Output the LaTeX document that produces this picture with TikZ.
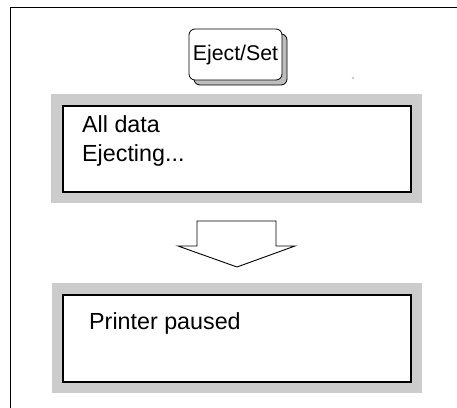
\documentclass[tikz,border=0pt]{standalone}
\usepackage{fontspec}
\setmainfont{Liberation Sans}
\definecolor{panelgray}{HTML}{CCCCCC}
\definecolor{keyside}{HTML}{BDBDBD}
\begin{document}
\begin{tikzpicture}[x=1pt,y=-1pt,
  panel/.style={fill=panelgray, draw=none, minimum width=#1},
  screen/.style={fill=white, draw=black, line width=2.2pt},
  txt/.style={inner sep=0pt, anchor=base west, font=\fontsize{23.3}{28}\selectfont},
  keytxt/.style={inner sep=0pt, font=\fontsize{21.3}{25}\selectfont},
  keyface/.style={draw=black, line width=0.8pt, rounded corners=6pt, fill=white},
  keyshadow/.style={draw=black, line width=0.8pt, rounded corners=6pt, fill=keyside},
  blockarrow/.style={draw=black, line width=0.9pt, fill=white, line join=miter}
]
\useasboundingbox (0,0) rectangle (457,407);
% outer frame (cut by the picture edge at right and bottom)
\draw[line width=1pt] (10,410) -- (10,7) -- (460,7);

% key
\draw[keyshadow] (194,34) rectangle (287,85);
\draw[keyface] (189,29) rectangle (282,80);
\node[keytxt] (key) at (235.5,55) {Eject/Set};

% tiny speck
\fill[black!22] (353,78) circle (1.3pt);

% panel 1
\fill[panelgray] (51,94) rectangle (422,203);
\draw[screen] (63,106) rectangle (411,192);
\node[txt] (l1) at (82,132) {All data};
\node[txt] (l2) at (82,161) {Ejecting...};

% block arrow
\draw[blockarrow] (197,221) -- (276,221) -- (276,246) -- (295,246)
  -- (237,267) -- (178,246) -- (197,246) -- cycle;

% panel 2
\fill[panelgray] (52,283) rectangle (422,393);
\draw[screen] (63,295) rectangle (411,382);
\node[txt] (l3) at (89,329) {Printer paused};
\end{tikzpicture}
\end{document}
